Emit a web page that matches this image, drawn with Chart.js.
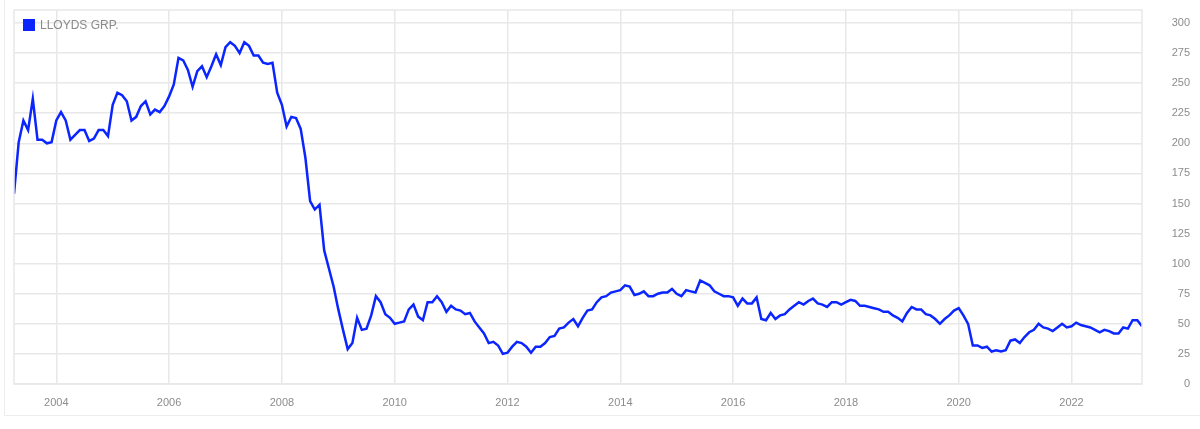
<!DOCTYPE html>
<html>
<head>
<meta charset="utf-8">
<script src="https://cdn.jsdelivr.net/npm/chart.js@4"></script>
<style>
  html, body { margin: 0; padding: 0; background: #fff; overflow: hidden; }
  #wrap { position: relative; width: 1200px; height: 429px; }
  #frame { position: absolute; left: 4px; top: -2px; width: 1210px; height: 418px; border: 1px solid #ededed; box-sizing: border-box; }
  #chart { position: absolute; left: 0; top: 0; }
</style>
</head>
<body>
<div id="wrap">
  <div id="frame"></div>
  <canvas id="chart" width="1200" height="429"></canvas>
</div>
<script>
// monthly closes, Apr 2003 .. Apr 2023
var seriesName = "LLOYDS GRP.";
var startYear = 2003;
var startMonth = 4;
var prices = [
  158, 201, 219, 211, 237, 203, 203, 200, 201, 219, 226, 219, 203, 207, 211, 211, 202, 204, 211, 211,
  206, 232, 242, 240, 235, 219, 222, 231, 235, 224, 228, 226, 231, 239, 249, 271, 269, 261, 247, 260,
  264, 255, 264, 274, 265, 280, 284, 281, 275, 284, 281, 273, 273, 267, 266, 267, 242, 232, 214, 222,
  221, 212, 188, 152, 145, 149, 111, 96, 81, 62, 45, 29, 34, 55, 45, 46, 57, 73, 68, 58,
  55, 50, 51, 52, 62, 66, 56, 53, 68, 68, 73, 68, 60, 65, 62, 61, 58, 59, 52, 47,
  42, 34, 35, 32, 25, 26, 31, 35, 34, 31, 26, 31, 31, 34, 39, 40, 46, 47, 51,
  54, 48, 55, 61, 62, 68, 72, 73, 76, 77, 78, 82, 81, 74, 75, 77, 73, 73, 75, 76,
  76, 79, 75, 73, 78, 77, 76, 86, 84, 82, 77, 75, 73, 73, 72, 65, 71, 67, 67,
  72, 54, 53, 59, 54, 57, 58, 62, 65, 68, 66, 69, 71, 67, 66, 64, 68, 68, 66, 68,
  70, 69, 65, 65, 64, 63, 62, 60, 60, 57, 55, 52, 59, 64, 62, 62, 58, 57, 54,
  50, 54, 57, 61, 63, 57, 50, 32, 32, 30, 31, 27, 28, 27, 28, 36, 37, 34, 39, 43,
  45, 50, 47, 46, 44, 47, 50, 47, 48, 51, 49, 48, 47, 45, 43, 45, 44, 42, 42, 47,
  46, 53, 53, 48
];
var yearTicks = [2004, 2006, 2008, 2010, 2012, 2014, 2016, 2018, 2020, 2022];
var priceTicks = [0, 25, 50, 75, 100, 125, 150, 175, 200, 225, 250, 275, 300];

var lineColor = "#0b25ff";
var gridColor = "#e8e8e8";
var textColor = "#8c8c8c";

var points = prices.map(function(p, i){
  return { x: startYear + (startMonth - 1 + i) / 12, y: p };
});

// box around the plot + legend inside top-left
var boxAndLegend = {
  id: "boxAndLegend",
  afterDraw: function(chart){
    var c = chart.ctx, a = chart.chartArea;
    c.save();
    c.strokeStyle = gridColor;
    c.lineWidth = 1.5;
    c.strokeRect(a.left, a.top, a.right - a.left, a.bottom - a.top);
    var ds = chart.data.datasets[0];
    c.fillStyle = ds.borderColor;
    c.fillRect(23, 19, 12, 12);
    c.fillStyle = "#8a8a8a";
    c.font = "12px 'Liberation Sans', Arial, sans-serif";
    c.textBaseline = "middle";
    c.fillText(ds.label, 40, 25.5);
    c.restore();
  }
};

var canvas = document.getElementById("chart");
var ctx = canvas.getContext("2d");

new Chart(ctx, {
  type: "line",
  data: {
    datasets: [{
      label: seriesName,
      data: points,
      borderColor: lineColor,
      backgroundColor: lineColor,
      borderWidth: 2.5,
      pointRadius: 0,
      tension: 0,
      fill: false
    }]
  },
  options: {
    responsive: false,
    animation: false,
    layout: { padding: { left: 14, top: 10, right: 10, bottom: 0 } },
    plugins: {
      legend: { display: false },
      tooltip: { enabled: false }
    },
    scales: {
      x: {
        type: "linear",
        min: startYear + (startMonth - 1) / 12,
        max: startYear + (startMonth - 1 + prices.length - 1) / 12,
        afterBuildTicks: function(scale){
          scale.ticks = yearTicks.map(function(v){ return { value: v }; });
        },
        afterFit: function(scale){ scale.height = 45; },
        grid: { color: gridColor, lineWidth: 1.5, drawTicks: false },
        border: { display: false },
        ticks: {
          color: textColor,
          padding: 12,
          maxRotation: 0,
          font: { family: "'Liberation Sans', Arial, sans-serif", size: 11 },
          callback: function(v){ return String(v); }
        }
      },
      y: {
        position: "right",
        min: 0,
        max: 310.8,
        afterBuildTicks: function(scale){
          scale.ticks = priceTicks.map(function(v){ return { value: v }; });
        },
        afterFit: function(scale){
          scale.width = 48;
          scale.paddingTop = 7;
          scale.paddingBottom = 7;
        },
        grid: { color: gridColor, lineWidth: 1.5, drawTicks: false },
        border: { display: false },
        ticks: {
          color: textColor,
          padding: 28,
          crossAlign: "far",
          font: { family: "'Liberation Sans', Arial, sans-serif", size: 11 },
          callback: function(v){ return String(v); }
        }
      }
    }
  },
  plugins: [boxAndLegend]
});
</script>
</body>
</html>
